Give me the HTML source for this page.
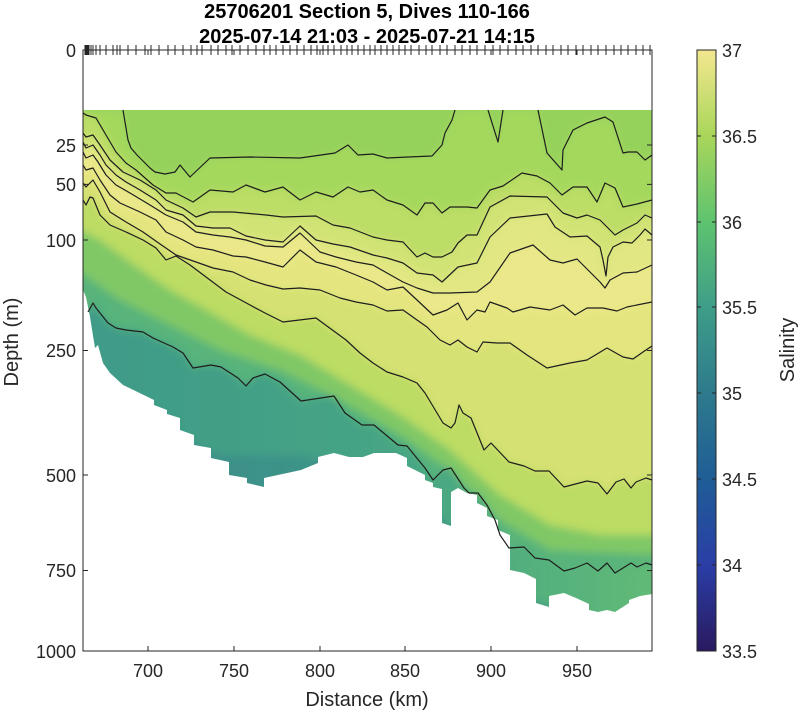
<!DOCTYPE html>
<html><head><meta charset="utf-8"><style>
html,body{margin:0;padding:0;background:#fff;}
svg{display:block;font-family:"Liberation Sans",sans-serif;}
</style></head><body>
<svg width="800" height="714" viewBox="0 0 800 714" xmlns="http://www.w3.org/2000/svg">
<defs>
<clipPath id="dc"><polygon points="83,110 652,110 652,594 640,596 629,600 629,603 615,612 607,610 598,612 589,610 589,604 576,598 564,593 549,596 549,607 536,603 536,579 524,573 510,570 510,535 498,530 498,520 487,516 487,508 477,503 477,495 467,493 458,488 451,492 451,526 442,523 442,489 433,487 433,483 425,480 425,475 407,466 407,458 396,453 374,453 363,457 349,457 334,453 318,457 318,463 301,470 264,478 264,487 247,483 247,478 229,475 229,462 211,458 211,448 194,445 194,435 180,430 180,418 167,414 167,410 154,405 154,400 123,385 110,373 103,363 98,345 95,348 90,317 86,297 83,290"/></clipPath>
<filter id="bl" x="-5%" y="-5%" width="110%" height="110%"><feGaussianBlur stdDeviation="4"/></filter>
<linearGradient id="cb" x1="0" y1="0" x2="0" y2="1">
<stop offset="0" stop-color="#f3e78f"/>
<stop offset="0.143" stop-color="#a9d65a"/>
<stop offset="0.286" stop-color="#5ec36f"/>
<stop offset="0.429" stop-color="#3e9d88"/>
<stop offset="0.571" stop-color="#2e7a8c"/>
<stop offset="0.714" stop-color="#1f5d96"/>
<stop offset="0.857" stop-color="#2a3ea6"/>
<stop offset="1" stop-color="#2a1a60"/>
</linearGradient>
<linearGradient id="gi" x1="0" y1="0" x2="1" y2="0">
<stop offset="0" stop-color="#3f9a88"/>
<stop offset="0.55" stop-color="#46a584"/>
<stop offset="1" stop-color="#62bb76"/>
</linearGradient>
<linearGradient id="gm2" x1="0" y1="0" x2="1" y2="0">
<stop offset="0" stop-color="#3a8b8a"/>
<stop offset="1" stop-color="#45a085"/>
</linearGradient>
</defs>

<g clip-path="url(#dc)">
<g filter="url(#bl)">
<rect x="70" y="100" width="600" height="560" fill="#94d25b"/>
<polygon fill="#a4d85d" points="70,110 123,110 128,140 131,148 137,155 142,160 150,168 155,172 165,174 175,172 180,165 190,177 210,158 250,157 300,158 335,153 348,145 358,155 373,154 387,158 408,157 432,156 442,145 445,133 452,120 455,110 488,110 498,142 503,110 538,110 547,153 562,170 563,150 573,130 587,123 605,117 613,122 623,153 628,152 637,152 645,160 652,155 670,155 670,660 70,660"/>
<polygon fill="#bcdd66" points="70,113 86,115 96,118 106,135 116,152 126,163 136,170 153,185 166,193 176,193 193,202 210,190 233,192 246,185 265,192 283,187 300,200 316,192 333,197 348,187 360,192 373,190 387,200 403,205 417,215 425,203 433,203 442,213 450,207 467,207 477,208 490,190 503,186 522,173 537,176 550,183 562,195 573,187 587,187 597,202 605,183 615,188 623,207 637,204 652,200 670,200 670,660 70,660"/>
<polygon fill="#d2e376" points="70,133 86,137 93,135 100,145 110,160 123,172 140,180 156,190 166,200 183,208 196,217 210,212 233,212 266,215 283,217 316,216 333,225 350,228 373,237 387,240 403,242 417,257 425,253 433,257 442,257 452,252 458,243 467,235 477,235 490,207 510,196 547,197 563,213 577,218 587,215 600,220 615,235 623,230 637,223 645,215 652,218 670,218 670,660 70,660"/>
<polygon fill="#e1e782" points="70,142 86,148 93,145 100,155 106,165 116,175 126,182 140,190 156,200 166,210 183,215 196,226 213,228 230,228 246,236 265,240 283,242 300,226 316,240 333,244 350,247 373,255 387,258 403,263 417,273 433,275 442,282 458,267 477,263 490,237 510,218 547,214 555,227 570,237 587,236 600,247 603,260 606,276 608,257 613,247 623,242 632,243 640,235 645,229 652,235 670,235 670,660 70,660"/>
<polygon fill="#ebe88b" points="70,152 86,158 93,155 98,162 106,175 116,185 130,193 150,205 166,215 183,222 196,232 213,235 230,237 246,240 265,246 283,247 300,233 320,252 336,257 356,262 373,265 387,273 403,282 417,288 433,293 450,293 477,292 490,282 510,253 533,245 550,260 563,263 577,259 600,282 605,288 610,280 623,273 637,272 652,265 670,265 670,660 70,660"/>
<polygon fill="#e5e580" points="70,165 86,170 93,168 100,180 110,195 120,203 140,212 156,220 166,232 183,240 196,247 213,250 233,256 246,257 265,262 283,267 300,250 316,262 336,267 356,275 373,282 387,290 403,287 417,300 433,315 447,310 458,303 467,320 477,310 485,312 490,302 507,308 513,312 530,307 550,310 563,305 575,315 587,308 603,308 617,311 627,307 652,302 670,302 670,660 70,660"/>
<polygon fill="#d5e172" points="70,183 86,187 93,180 100,192 110,212 126,222 143,232 160,244 176,255 196,262 213,268 233,272 250,280 266,285 283,289 300,288 320,290 340,298 356,302 373,305 387,311 403,310 417,320 427,327 440,340 450,345 458,340 467,347 477,352 483,342 497,343 510,343 527,355 547,368 570,363 587,360 607,348 623,357 633,359 643,352 652,346 670,346 670,660 70,660"/>
<polygon fill="#bcdc63" points="70,200 86,205 90,197 93,198 100,215 110,225 126,232 143,240 156,248 166,260 176,256 190,265 210,280 226,292 250,305 265,313 283,322 316,318 346,340 360,353 373,363 387,372 403,377 417,383 425,393 443,423 451,428 455,423 459,405 463,413 471,418 484,450 491,443 509,462 524,466 535,471 549,471 564,487 587,481 598,483 607,494 616,482 624,479 631,488 636,482 646,478 652,480 670,480 670,660 70,660"/>
<polygon fill="#80c866" points="70,225 100,240 130,262 170,290 210,312 250,335 300,355 350,385 400,415 450,450 500,495 550,525 600,535 652,535 670,535 670,660 70,660"/>
<polygon fill="#58b47a" points="70,265 120,300 170,325 220,350 280,370 340,400 400,435 450,470 500,520 550,550 652,555 670,555 670,660 70,660"/>
<polygon fill="url(#gi)" points="70,312 88,312 93,303 96,308 100,313 108,323 116,328 126,330 143,332 153,338 173,347 183,353 193,368 211,365 221,367 238,378 246,386 253,378 265,374 280,382 301,401 334,396 345,413 362,425 374,425 398,445 407,446 425,468 433,480 443,470 451,468 464,488 469,493 478,493 487,505 495,520 500,535 509,548 524,547 535,558 549,560 564,571 575,568 587,563 598,571 607,563 615,573 631,563 637,567 646,563 652,565 670,565 670,660 70,660"/>
<polygon fill="url(#gm2)" points="70,385 150,425 220,455 300,455 380,472 450,525 520,595 600,625 670,625 670,660 70,660"/>
</g>
</g>

<g fill="none" stroke="#1e1e1e" stroke-width="1.2" stroke-linejoin="round">
<polyline points="123,110 128,140 131,148 137,155 142,160 150,168 155,172 165,174 175,172 180,165 190,177 210,158 250,157 300,158 335,153 348,145 358,155 373,154 387,158 408,157 432,156 442,145 445,133 452,120 455,110"/>
<polyline points="488,110 498,142 503,110"/>
<polyline points="538,110 547,153 562,170 563,150 573,130 587,123 605,117 613,122 623,153 628,152 637,152 645,160 652,155"/>
<polyline points="83,113 86,115 96,118 106,135 116,152 126,163 136,170 153,185 166,193 176,193 193,202 210,190 233,192 246,185 265,192 283,187 300,200 316,192 333,197 348,187 360,192 373,190 387,200 403,205 417,215 425,203 433,203 442,213 450,207 467,207 477,208 490,190 503,186 522,173 537,176 550,183 562,195 573,187 587,187 597,202 605,183 615,188 623,207 637,204 652,200"/>
<polyline points="83,133 86,137 93,135 100,145 110,160 123,172 140,180 156,190 166,200 183,208 196,217 210,212 233,212 266,215 283,217 316,216 333,225 350,228 373,237 387,240 403,242 417,257 425,253 433,257 442,257 452,252 458,243 467,235 477,235 490,207 510,196 547,197 563,213 577,218 587,215 600,220 615,235 623,230 637,223 645,215 652,218"/>
<polyline points="83,142 86,148 93,145 100,155 106,165 116,175 126,182 140,190 156,200 166,210 183,215 196,226 213,228 230,228 246,236 265,240 283,242 300,226 316,240 333,244 350,247 373,255 387,258 403,263 417,273 433,275 442,282 458,267 477,263 490,237 510,218 547,214 555,227 570,237 587,236 600,247 603,260 606,276 608,257 613,247 623,242 632,243 640,235 645,229 652,235"/>
<polyline points="83,152 86,158 93,155 98,162 106,175 116,185 130,193 150,205 166,215 183,222 196,232 213,235 230,237 246,240 265,246 283,247 300,233 320,252 336,257 356,262 373,265 387,273 403,282 417,288 433,293 450,293 477,292 490,282 510,253 533,245 550,260 563,263 577,259 600,282 605,288 610,280 623,273 637,272 652,265"/>
<polyline points="83,165 86,170 93,168 100,180 110,195 120,203 140,212 156,220 166,232 183,240 196,247 213,250 233,256 246,257 265,262 283,267 300,250 316,262 336,267 356,275 373,282 387,290 403,287 417,300 433,315 447,310 458,303 467,320 477,310 485,312 490,302 507,308 513,312 530,307 550,310 563,305 575,315 587,308 603,308 617,311 627,307 652,302"/>
<polyline points="83,183 86,187 93,180 100,192 110,212 126,222 143,232 160,244 176,255 196,262 213,268 233,272 250,280 266,285 283,289 300,288 320,290 340,298 356,302 373,305 387,311 403,310 417,320 427,327 440,340 450,345 458,340 467,347 477,352 483,342 497,343 510,343 527,355 547,368 570,363 587,360 607,348 623,357 633,359 643,352 652,346"/>
<polyline points="83,200 86,205 90,197 93,198 100,215 110,225 126,232 143,240 156,248 166,260 176,256 190,265 210,280 226,292 250,305 265,313 283,322 316,318 346,340 360,353 373,363 387,372 403,377 417,383 425,393 443,423 451,428 455,423 459,405 463,413 471,418 484,450 491,443 509,462 524,466 535,471 549,471 564,487 587,481 598,483 607,494 616,482 624,479 631,488 636,482 646,478 652,480"/>
<polyline points="88,312 93,303 96,308 100,313 108,323 116,328 126,330 143,332 153,338 173,347 183,353 193,368 211,365 221,367 238,378 246,386 253,378 265,374 280,382 301,401 334,396 345,413 362,425 374,425 398,445 407,446 425,468 433,480 443,470 451,468 464,488 469,493 478,493 487,505 495,520 500,535 509,548 524,547 535,558 549,560 564,571 575,568 587,563 598,571 607,563 615,573 631,563 637,567 646,563 652,565"/>
</g>

<rect x="83" y="50" width="569" height="601" fill="none" stroke="#262626" stroke-width="1"/>
<g stroke="#262626" stroke-width="1">
<path d="M83,145h5M83,184.4h5M83,240h5M83,350.5h5M83,475h5M83,570.5h5M652,145h-5M652,184.4h-5M652,240h-5M652,350.5h-5M652,475h-5M652,570.5h-5"/>
<path d="M148,651v-5M234,651v-5M320,651v-5M405,651v-5M491,651v-5M577,651v-5M148,50v5M234,50v5M320,50v5M405,50v5M491,50v5M577,50v5"/>
<path d="M85,45v10M86,45v10M87,45v10M88,45v10M89,45v10M91,45v10M93,45v10M96,45v10M100,45v10M106,45v10M113,45v10M117,45v10M120,45v10M128,45v10M136,45v10M145,45v10M151,45v10M159,45v10M168,45v10M175,45v10M183,45v10M191,45v10M197,45v10M202,45v10M211,45v10M218,45v10M226,45v10M232,45v10M240,45v10M248,45v10M256,45v10M264,45v10M270,45v10M276,45v10M283,45v10M290,45v10M297,45v10M304,45v10M311,45v10M317,45v10M323,45v10M328,45v10M334,45v10M341,45v10M347,45v10M352,45v10M358,45v10M364,45v10M370,45v10M375,45v10M381,45v10M387,45v10M393,45v10M399,45v10M405,45v10M411,45v10M419,45v10M426,45v10M432,45v10M440,45v10M447,45v10M455,45v10M462,45v10M470,45v10M477,45v10M485,45v10M493,45v10M500,45v10M508,45v10M516,45v10M523,45v10M531,45v10M538,45v10M546,45v10M553,45v10M561,45v10M568,45v10M576,45v10M583,45v10M591,45v10M598,45v10M606,45v10M614,45v10M621,45v10M628,45v10M636,45v10M643,45v10M650,45v10"/>
</g>

<g font-size="18" fill="#262626">
<g text-anchor="end">
<text x="76" y="57">0</text>
<text x="76" y="152">25</text>
<text x="76" y="191">50</text>
<text x="76" y="247">100</text>
<text x="76" y="357">250</text>
<text x="76" y="482">500</text>
<text x="76" y="577">750</text>
<text x="76" y="658">1000</text>
</g>
<g text-anchor="middle">
<text x="148" y="677">700</text>
<text x="234" y="677">750</text>
<text x="320" y="677">800</text>
<text x="405" y="677">850</text>
<text x="491" y="677">900</text>
<text x="577" y="677">950</text>
<text x="367" y="706" font-size="20">Distance (km)</text>
<text x="367" y="18" font-size="20" font-weight="bold" fill="#000">25706201 Section 5, Dives 110-166</text>
<text x="367" y="43" font-size="20" font-weight="bold" fill="#000">2025-07-14 21:03 - 2025-07-21 14:15</text>
</g>
<text transform="translate(18,342) rotate(-90)" text-anchor="middle" font-size="20">Depth (m)</text>
</g>

<rect x="697" y="50" width="19" height="601" fill="url(#cb)" stroke="#262626" stroke-width="1"/>
<g stroke="#262626" stroke-width="1">
<path d="M697,136h4M697,222h4M697,307h4M697,393h4M697,479h4M697,565h4M716,136h-4M716,222h-4M716,307h-4M716,393h-4M716,479h-4M716,565h-4"/>
</g>
<g font-size="18" fill="#262626">
<text x="722" y="57">37</text>
<text x="722" y="143">36.5</text>
<text x="722" y="229">36</text>
<text x="722" y="314">35.5</text>
<text x="722" y="400">35</text>
<text x="722" y="486">34.5</text>
<text x="722" y="572">34</text>
<text x="722" y="658">33.5</text>
<text transform="translate(794,350) rotate(-90)" text-anchor="middle" font-size="20">Salinity</text>
</g>
</svg>
</body></html>
